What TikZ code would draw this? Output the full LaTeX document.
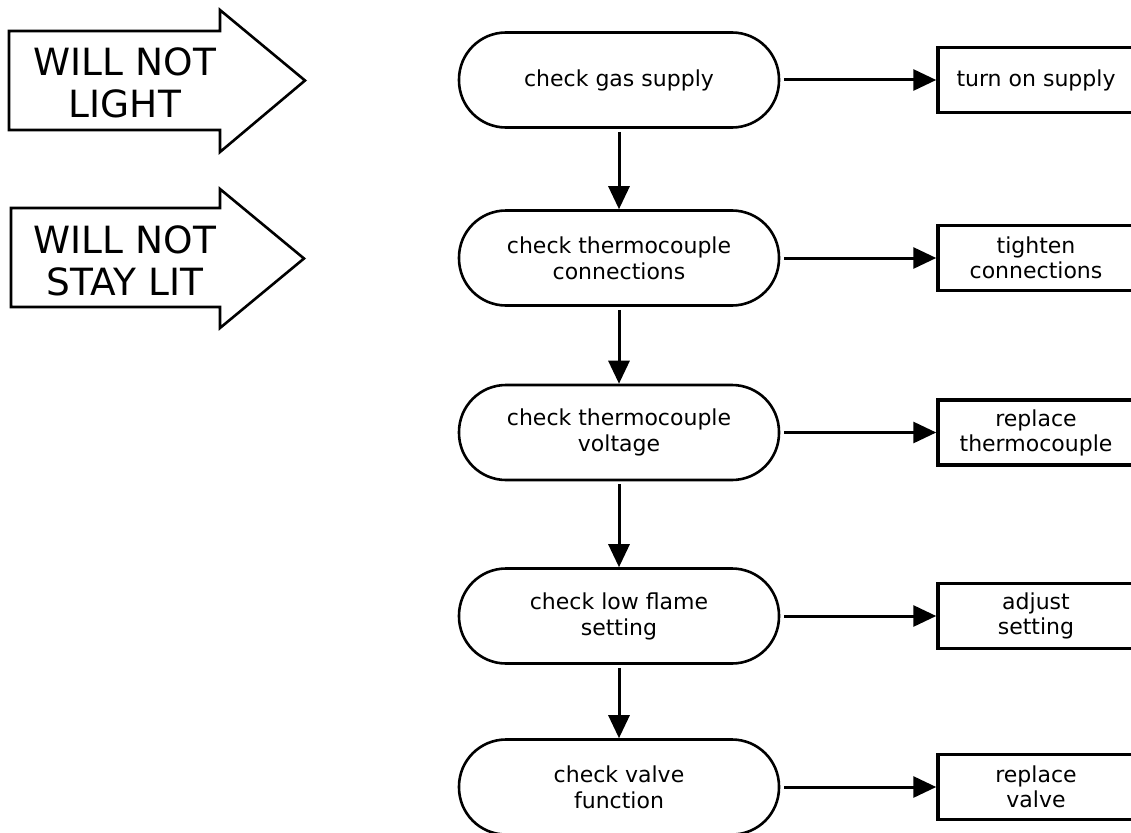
\documentclass[tikz,border=0pt]{standalone}
\usepackage{fontspec}
\setmainfont{DejaVu Sans}
\usetikzlibrary{arrows.meta}
\begin{document}
\begin{tikzpicture}[x=1pt,y=-1pt,
  stadium/.style={draw, line width=2.6pt, rounded corners=47pt, minimum width=320pt, minimum height=95pt, align=center, font=\fontsize{22}{26}\selectfont, inner sep=0pt},
  actbox/.style={draw, line width=3.5pt, minimum width=196pt, minimum height=65pt, align=center, font=\fontsize{22}{25}\selectfont, inner sep=0pt},
  conn/.style={line width=3pt, -{Triangle[width=21pt,length=23pt]}},
  bigarrow/.style={draw, line width=2.6pt, line join=miter, fill=white},
  bigtext/.style={align=center, font=\fontsize{37.5}{42}\selectfont, inner sep=0pt}]
\useasboundingbox (0,0) rectangle (1131,832);

% big arrows
\draw[bigarrow] (9,31) -- (220,31) -- (220,10) -- (305,80.5) -- (220,152) -- (220,130) -- (9,130) -- cycle;
\draw[bigarrow] (11,208) -- (220,208) -- (220,189) -- (304,258.5) -- (220,328) -- (220,307) -- (11,307) -- cycle;
\node[bigtext] (t1) at (125,83) {WILL NOT\\LIGHT};
\node[bigtext] (t2) at (125,261) {WILL NOT\\STAY LIT};

% checks
\node[stadium] (s1) at (619,80) {check gas supply};
\node[stadium] (s2) at (619,258) {check thermocouple\\connections};
\node[stadium] (s3) at (619,432.5) {check thermocouple\\voltage};
\node[stadium] (s4) at (619,616) {check low flame\\setting};
\node[stadium] (s5) at (619,787) {check valve\\function};

% actions
\node[actbox] (a1) at (1036,80) {turn on supply};
\node[actbox] (a2) at (1036,258) {tighten\\connections};
\node[actbox] (a3) at (1036,432.5) {replace\\thermocouple};
\node[actbox] (a4) at (1036,616) {adjust\\setting};
\node[actbox] (a5) at (1036,787) {replace\\valve};

% connectors
\foreach \i/\j in {1/2,2/3,3/4,4/5}
  \draw[conn] ([yshift=-3pt]s\i.south) -- (s\j.north);
\foreach \i in {1,...,5}
  \draw[conn] ([xshift=4pt]s\i.east) -- (a\i.west);
\end{tikzpicture}
\end{document}
